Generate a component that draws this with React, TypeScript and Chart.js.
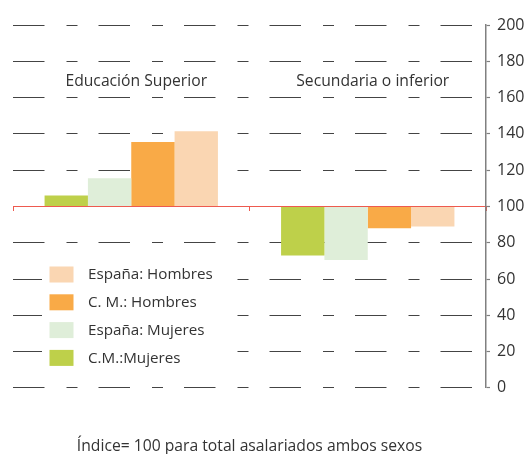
import React, { useEffect, useRef } from "react";
import { Chart, registerables } from "chart.js";

Chart.register(...registerables);

const categories = ["Educación Superior", "Secundaria o inferior"];
const seriesLabels = ["C.M.:Mujeres", "España: Mujeres", "C. M.: Hombres", "España: Hombres"];
const cmMujeres = [106, 73];
const espanaMujeres = [115.5, 70.5];
const cmHombres = [135.5, 88];
const espanaHombres = [141.5, 89];
const yTicks = [0, 20, 40, 60, 80, 100, 120, 140, 160, 180, 200];
const footnote = "Índice= 100 para total asalariados ambos sexos";

const COLORS = ["#bed04a", "#dfeed9", "#f9aa47", "#fad6b2"];
const FONT = '"Open Sans", "Noto Sans", sans-serif';
const TEXT = "#333333";

const boxLegend = {
  id: "boxLegend",
  afterDatasetsDraw(chart: any) {
    const ctx = chart.ctx;
    const area = chart.chartArea;
    const x0 = area.left + 29;
    const y0 = area.top + 237;
    ctx.save();
    ctx.fillStyle = "#ffffff";
    ctx.fillRect(x0, y0, 192, 108);
    const ds = chart.data.datasets.slice().reverse();
    ctx.font = "15.2px " + FONT;
    ctx.textBaseline = "middle";
    ctx.textAlign = "left";
    ds.forEach((d: any, i: number) => {
      const y = y0 + 4.5 + i * 27.8;
      ctx.fillStyle = d.backgroundColor;
      ctx.fillRect(x0 + 7.5, y, 24, 16);
      ctx.fillStyle = TEXT;
      ctx.fillText(d.label, x0 + 46, y + 8.5);
    });
    ctx.restore();
  },
};

export default function App() {
  const ref = useRef<HTMLCanvasElement | null>(null);

  useEffect(() => {
    if (!ref.current) return;
    const values = [cmMujeres, espanaMujeres, cmHombres, espanaHombres];
    const chart = new Chart(ref.current, {
      type: "bar",
      data: {
        labels: categories,
        datasets: values.map((v, i) => ({
          label: seriesLabels[i],
          data: v,
          base: 100,
          backgroundColor: COLORS[i],
          borderWidth: 0,
          xAxisID: "x",
          yAxisID: "y",
          categoryPercentage: 0.733,
          barPercentage: 1,
        })),
      },
      options: {
        animation: false,
        responsive: true,
        maintainAspectRatio: false,
        layout: { padding: { left: 13, top: 25, right: 0, bottom: 0 } },
        plugins: {
          legend: { display: false },
          tooltip: { enabled: false },
          title: {
            display: true,
            position: "bottom",
            text: footnote,
            fullSize: false,
            color: TEXT,
            font: { family: FONT, size: 15.7, weight: "normal", lineHeight: 0.9 },
            padding: { top: 52, bottom: 0 },
          },
        },
        scales: {
          x: {
            type: "category",
            axis: "x",
            position: { y: 100 } as any,
            offset: true,
            grid: {
              offset: true,
              drawOnChartArea: false,
              drawTicks: true,
              tickLength: 4,
              tickColor: "#ee5a4f",
              tickWidth: 1,
            },
            border: { display: true, color: "#ee5a4f", width: 1 },
            ticks: { display: false },
          },
          x2: {
            type: "category",
            axis: "x",
            position: { y: 180 } as any,
            offset: true,
            grid: { display: false },
            border: { display: false },
            ticks: {
              color: TEXT,
              font: { family: FONT, size: 15.7 },
              labelOffset: 5,
              padding: 3,
              maxRotation: 0,
              autoSkip: false,
            },
          },
          y: {
            type: "linear",
            position: "right",
            min: 0,
            max: 200,
            afterBuildTicks: (scale: any) => {
              scale.ticks = yTicks.map((v) => ({ value: v }));
            },
            afterFit: (scale: any) => {
              scale.width = 42;
            },
            grid: {
              color: (c: any) => (c.tick && c.tick.value === 100 ? "rgba(0,0,0,0)" : "#444444"),
              lineWidth: 1,
              drawTicks: true,
              tickLength: 4,
              tickColor: "#808080",
              tickWidth: 1.2,
            },
            border: { display: true, color: "#808080", width: 1.5, dash: [31.5, 22, 11, 21] },
            ticks: {
              color: TEXT,
              font: { family: FONT, size: 16 },
              padding: 7,
            },
          },
        },
      },
      plugins: [boxLegend],
    });
    return () => chart.destroy();
  }, []);

  return (
    <div style={{ position: "absolute", left: 0, top: 0, width: 528, height: 454 }}>
      <canvas ref={ref} />
    </div>
  );
}
